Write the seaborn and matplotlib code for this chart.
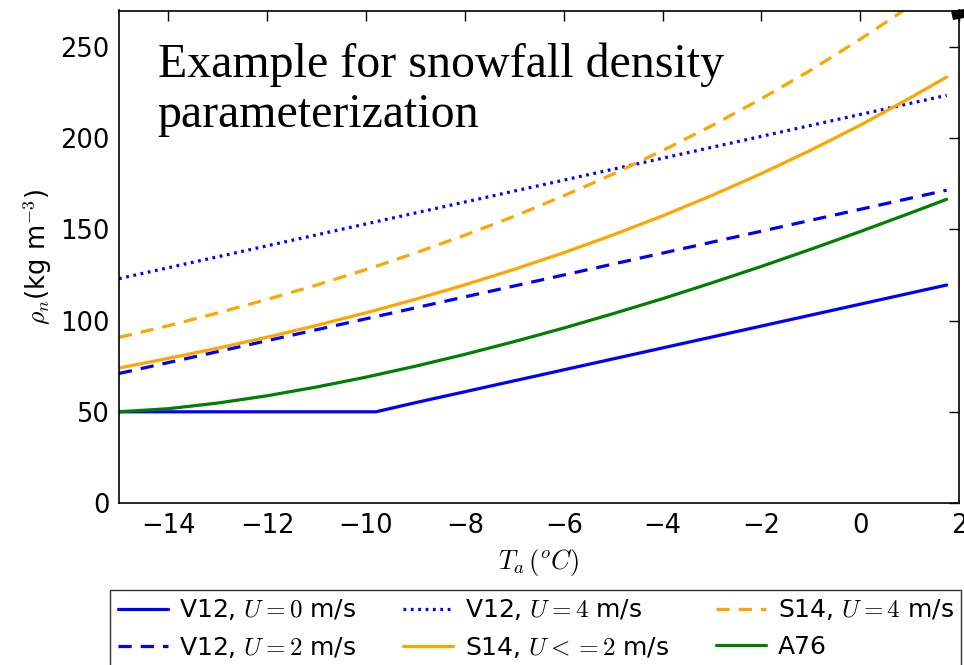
import matplotlib
matplotlib.use("Agg")
import matplotlib.pyplot as plt
import seaborn as sns
import pandas as pd
from matplotlib.patches import Polygon

# Air temperature (deg C) at which each density curve is evaluated
temperature = [-15, -14, -13, -12, -11, -10, -9.8, -9, -8, -7, -6, -5, -4,
               -3, -2, -1, 0, 1, 1.75]

# Fresh-snow density (kg m-3) for each parameterization
v12_u0 = [50, 50, 50, 50, 50, 50, 50, 55, 61, 67, 73, 79, 85,
          91, 97, 103, 109, 115, 119.5]
v12_u2 = [71, 77, 83, 89, 95, 101, 102.2, 107, 113, 119, 125, 131, 137,
          143, 149, 155, 161, 167, 171.5]
v12_u4 = [123, 129, 135, 141, 147, 153, 154.2, 159, 165, 171, 177, 183, 189,
          195, 201, 207, 213, 219, 223.5]
s14_u2 = [74.0, 79.3, 84.9, 90.9, 97.4, 104.3, 105.7, 111.7, 119.6, 128.1,
          137.2, 147.0, 157.4, 168.6, 180.6, 193.4, 207.1, 221.9, 233.5]
s14_u4 = [90.8, 97.2, 104.2, 111.6, 119.5, 128.0, 129.7, 137.1, 146.8, 157.2,
          168.4, 180.3, 193.2, 206.9, 221.6, 237.3, 254.2, 272.2, 286.5]
a76 = [50.0, 51.7, 54.8, 58.8, 63.6, 69.0, 70.2, 75.0, 81.5, 88.5, 95.9,
       103.8, 112.0, 120.7, 129.7, 139.1, 148.8, 158.8, 166.5]

labels = [r"V12, $U=0$ m/s", r"V12, $U=2$ m/s", r"V12, $U=4$ m/s",
          r"S14, $U<=2$ m/s", r"S14, $U=4$ m/s", "A76"]
series = [v12_u0, v12_u2, v12_u4, s14_u2, s14_u4, a76]

colors = ["#0000ff", "#0000ff", "#0000ff", "#ffa500", "#ffa500", "#007f00"]
dash_solid = "-"
dash_long = (0, (9.5, 6.5))
dash_dot = (0, (2.0, 3.3))
styles = [dash_solid, dash_long, dash_dot, dash_solid, dash_long, dash_solid]

sns.set_theme(style="white")
plt.rcParams["font.family"] = ["DejaVu Sans"]
plt.rcParams["mathtext.fontset"] = "cm"
plt.rcParams["lines.scale_dashes"] = False

fig = plt.figure(figsize=(9.64, 6.65), dpi=100)
W, H = 964, 665
ax = fig.add_axes([119 / W, 1 - 503 / H, 840 / W, 492.5 / H])

for vals, lab, col, ls in zip(series, labels, colors, styles):
    df = pd.DataFrame({"T": temperature, "rho": vals})
    sns.lineplot(data=df, x="T", y="rho", ax=ax, color=col, linestyle=ls,
                 lw=2.3, label=lab, legend=False, sort=False)

ax.set_xlim(-15, 2)
ax.set_ylim(0, 270)
ax.set_xticks([-14, -12, -10, -8, -6, -4, -2, 0, 2])
ax.set_yticks([0, 50, 100, 150, 200, 250])

for s in ax.spines.values():
    s.set_color("black")
    s.set_linewidth(1.2)
ax.tick_params(direction="in", length=7, width=1, colors="black",
               top=True, right=True, labelsize=18.5, pad=7)

ax.set_xlabel(r"$T_a\,(^oC)$", fontsize=19, color="black", labelpad=6)
ax.set_ylabel(r"$\rho_n$(kg m$^{-3}$)", fontsize=18.5, color="black",
              labelpad=4)

ax.text(0.046, 0.935, "Example for snowfall density\nparameterization",
        transform=ax.transAxes, family="Liberation Serif", fontsize=34.5,
        va="top", ha="left", color="black", linespacing=1.18)

handles, labs = ax.get_legend_handles_labels()
leg = ax.legend(handles, labs, loc="upper left",
                bbox_to_anchor=(110 / W, 1 - 590 / H),
                bbox_transform=fig.transFigure, ncol=3, fontsize=18,
                frameon=True, fancybox=False, handlelength=2.0,
                handletextpad=0.45, columnspacing=1.9, labelspacing=0.5,
                borderpad=0.3, borderaxespad=0)
leg.get_frame().set_edgecolor("black")
leg.get_frame().set_linewidth(1.0)
for t in leg.get_texts():
    t.set_color("black")

# small dark mark at the top right corner
fig.add_artist(Polygon([[951 / W, 1 - 11 / H], [964 / W, 1 - 9 / H],
                        [964 / W, 1 - 18 / H], [953 / W, 1 - 20 / H]],
                       closed=True, transform=fig.transFigure,
                       facecolor="black", edgecolor="none"))

fig.savefig("out.png", dpi=100)
